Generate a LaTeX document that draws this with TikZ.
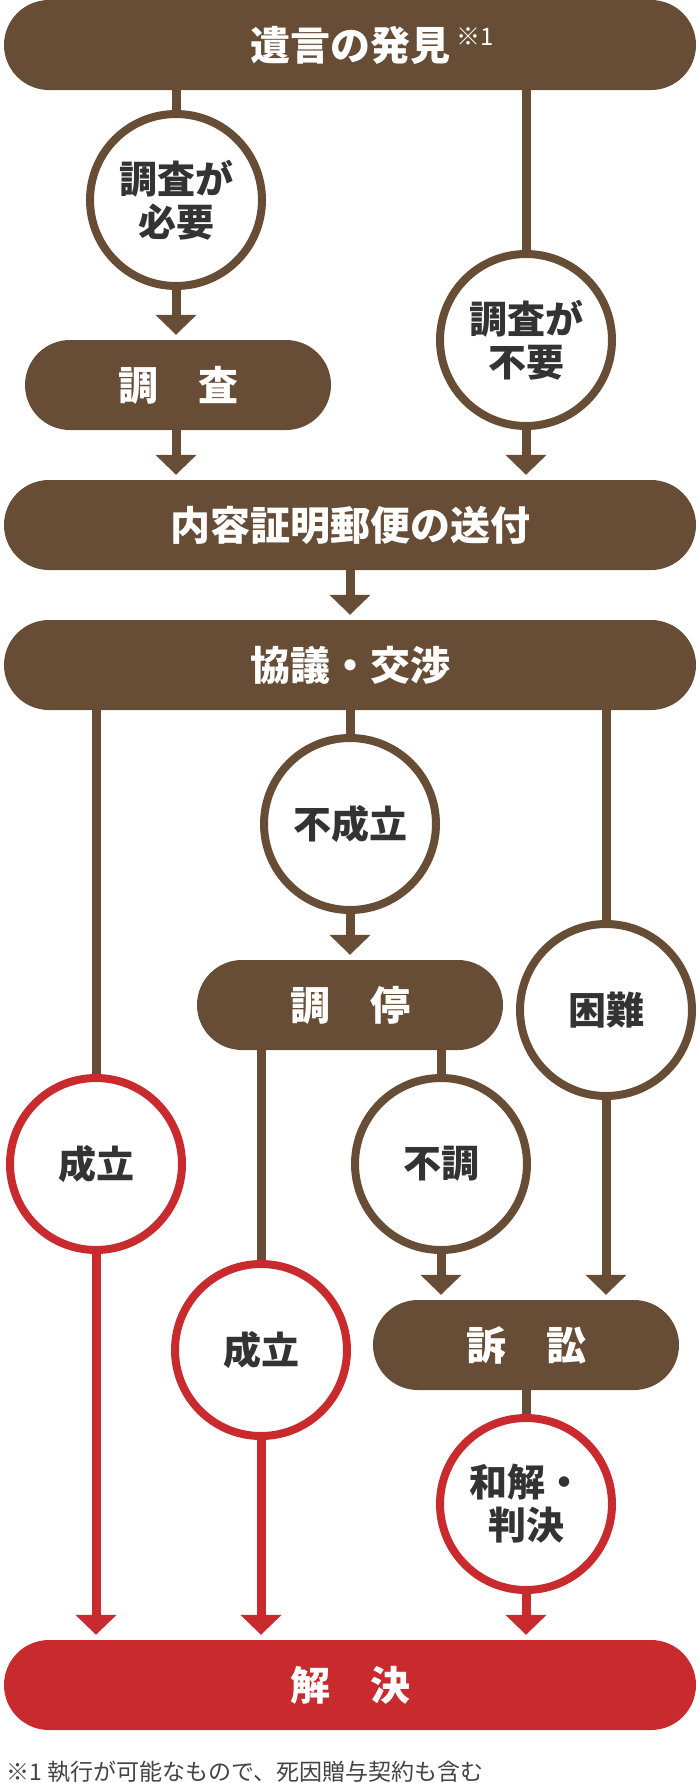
\documentclass[tikz,border=0pt]{standalone}
\usepackage{fontspec}
\setmainfont{Noto Sans CJK JP}
\usepackage{tikz}
\usetikzlibrary{calc, arrows.meta}
\tikzset{>={Triangle[width=40pt,length=20pt]}}
\definecolor{sbrown}{RGB}{103, 76, 54}
\definecolor{sred}{RGB}{200, 42, 46}
\definecolor{sdark}{RGB}{51, 51, 51}
\definecolor{sfoot}{RGB}{68, 68, 68}

\begin{document}
\begin{tikzpicture}[x=1pt, y=-1pt,
    bar/.style={rectangle,rounded corners=45pt,fill=sbrown,text=white,inner sep=0pt,minimum height=90pt,font=\fontsize{40}{44}\selectfont\bfseries},
    wide/.style={bar,minimum width=692pt},
    half/.style={bar,minimum width=306pt},
    choice/.style={circle,draw=sbrown,fill=white,line width=8pt,minimum size=172pt,inner sep=0pt,align=center,text=sdark,font=\fontsize{38}{43}\selectfont\bfseries},
    done/.style={choice,draw=sred},
    link/.style={sbrown,line width=9pt},
    flow/.style={link,->,shorten >=5pt},
    redflow/.style={flow,draw=sred,fill=sred}
  ]

  \useasboundingbox (0,0) rectangle (700,1783);

  % bars
  \node[wide] (iigon) at (350,45) {遺言の発見\rlap{\smash{\hspace{6pt}\raisebox{15pt}{\fontsize{24}{24}\selectfont\mdseries ※1}}}};
  \node[half] (chosa) at (178,385) {調　査};
  \node[wide] (naiyo) at (350,525) {内容証明郵便の送付};
  \node[wide] (kyogi) at (350,665) {協議・交渉};
  \node[half] (chotei) at (350,1005) {調　停};
  \node[half] (sosho) at (526,1345) {訴　訟};
  \node[wide,fill=sred] (kaiketsu) at (350,1685) {解　決};

  % circles
  \node[choice] (hitsuyo) at (176,200) {調査が\\必要};
  \node[choice] (fuyo) at (526,340) {調査が\\不要};
  \node[choice] (fuseiritsu) at (350,824) {不成立};
  \node[choice] (konnan) at (606,1010) {困難};
  \node[done] (seiritsuA) at (96,1164) {成立};
  \node[choice] (fucho) at (441,1164) {不調};
  \node[done] (seiritsuB) at (261,1350) {成立};
  \node[done] (wakai) at (526,1504) {和解・\\判決};

  \draw[link] (iigon.south -| hitsuyo) -- (hitsuyo.north);
  \draw[flow] (hitsuyo.south) -- (hitsuyo |- chosa.north);
  \draw[link] (iigon.south -| fuyo) -- (fuyo.north);
  \draw[flow] (chosa.south -| hitsuyo) -- (hitsuyo |- naiyo.north);
  \draw[flow] (fuyo.south) -- (fuyo |- naiyo.north);
  \draw[flow] (naiyo.south) -- (kyogi.north);

  \draw[link] (kyogi.south -| seiritsuA) -- (seiritsuA.north);
  \draw[link] (kyogi.south) -- (fuseiritsu.north);
  \draw[link] (kyogi.south -| konnan) -- (konnan.north);
  \draw[flow] (fuseiritsu.south) -- (chotei.north);
  \draw[link] (chotei.south -| seiritsuB) -- (seiritsuB.north);
  \draw[link] (chotei.south -| fucho) -- (fucho.north);
  \draw[flow] (fucho.south) -- (fucho |- sosho.north);
  \draw[flow] (konnan.south) -- (konnan |- sosho.north);
  \draw[link] (sosho.south -| wakai) -- (wakai.north);

  \foreach \s in {seiritsuA, seiritsuB, wakai} {
    \draw[redflow] (\s.south) -- (\s |- kaiketsu.north);
  }

  \node[anchor=west, inner sep=0pt, text=sfoot, font=\fontsize{23}{23}\selectfont] (chu) at (6,1772) {※1 執行が可能なもので、死因贈与契約も含む};

\end{tikzpicture}
\end{document}
